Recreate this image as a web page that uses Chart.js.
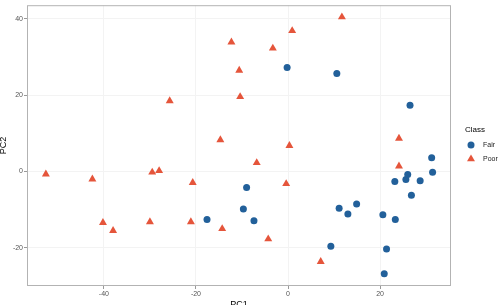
<!DOCTYPE html>
<html>
<head>
<meta charset="utf-8">
<script src="https://cdn.jsdelivr.net/npm/chart.js@4/dist/chart.umd.min.js"></script>
<style>
  html, body { margin: 0; padding: 0; background: #fff; }
  #wrap { width: 498px; height: 305px; }
</style>
</head>
<body>
<div id="wrap"><canvas id="chart" width="498" height="305"></canvas></div>
<script>
// PCA scores
const FAIR_PC1 = [-0.2, 10.6, 26.5, -17.6, -9.0, -9.7, -7.4, 9.3, 11.1, 13.0, 14.9, 20.6, 23.3, 21.4, 20.9, 23.2, 25.6, 26.0, 26.8, 28.7, 31.2, 31.4];
const FAIR_PC2 = [27.3, 25.7, 17.4, -12.6, -4.2, -9.8, -12.9, -19.6, -9.6, -11.1, -8.5, -11.3, -12.6, -20.3, -26.8, -2.6, -2.1, -0.8, -6.2, -2.4, 3.6, -0.2];
const POOR_PC1 = [11.7, 0.9, -12.3, -3.3, -10.6, -10.4, -25.7, -14.7, 0.3, 24.1, -6.8, 24.1, -52.6, -42.5, -29.5, -28.0, -20.7, -0.4, -40.2, -38.0, -30.0, -21.1, -14.3, -4.3, 7.1];
const POOR_PC2 = [40.5, 36.9, 33.9, 32.3, 26.5, 19.6, 18.5, 8.3, 6.8, 8.7, 2.3, 1.4, -0.7, -2.0, -0.2, 0.2, -2.9, -3.2, -13.4, -15.5, -13.2, -13.2, -15.0, -17.7, -23.6];

const X_TICKS = [-40, -20, 0, 20];
const Y_TICKS = [-20, 0, 20, 40];
const CLASSES = ["Fair", "Poor"];

const BLUE = "#22609a";
const RED = "#e5553b";
const FONT = "'Liberation Sans', Arial, sans-serif";

function toPoints(xs, ys) {
    return xs.map((x, i) => ({x: x, y: ys[i]}));
}

// grey panel border + legend on the right
const panelPlugin = {
    id: "panel",
    afterDraw(chart) {
        const ctx = chart.ctx;
        const a = chart.chartArea;
        ctx.save();
        ctx.strokeStyle = "#b3b3b3";
        ctx.lineWidth = 1;
        ctx.strokeRect(a.left + 0.5, a.top + 0.5, a.right - a.left - 1, a.bottom - a.top - 1);

        // legend
        ctx.fillStyle = "#000";
        ctx.font = "8px " + FONT;
        ctx.textBaseline = "middle";
        ctx.textAlign = "left";
        ctx.fillText("Class", 465, 130);
        ctx.font = "7px " + FONT;
        let styles = [
            {pointStyle: "circle", radius: 3.5, color: BLUE},
            {pointStyle: "triangle", radius: 4.6, color: RED},
        ];
        CLASSES.forEach((name, i) => {
            let y = 145 + i * 14;
            let s = styles[i];
            ctx.fillStyle = s.color;
            Chart.helpers.drawPoint(ctx, {pointStyle: s.pointStyle, radius: s.radius, borderWidth: 0, rotation: 0}, 471, y);
            ctx.fillStyle = "#1a1a1a";
            ctx.fillText(name, 483, y);
        });
        ctx.restore();
    }
};

new Chart(document.getElementById("chart"), {
    type: "scatter",
    data: {
        datasets: [
            {
                label: CLASSES[0],
                data: toPoints(FAIR_PC1, FAIR_PC2),
                pointStyle: "circle",
                pointRadius: 3.5,
                pointBorderWidth: 0,
                backgroundColor: BLUE,
                borderColor: BLUE,
            },
            {
                label: CLASSES[1],
                data: toPoints(POOR_PC1, POOR_PC2),
                pointStyle: "triangle",
                pointRadius: 4.6,
                pointBorderWidth: 0,
                backgroundColor: RED,
                borderColor: RED,
            },
        ]
    },
    options: {
        responsive: false,
        animation: false,
        layout: {padding: {left: 0, right: 47, top: 5, bottom: 0}},
        plugins: {
            legend: {display: false},
            tooltip: {enabled: false},
        },
        scales: {
            x: {
                type: "linear",
                min: -56.7,
                max: 35.4,
                afterBuildTicks: (s) => { s.ticks = X_TICKS.map(v => ({value: v})); },
                afterFit: (s) => { s.height = 19; },
                ticks: {color: "#555", font: {family: FONT, size: 7}, padding: 1},
                grid: {color: "#f3f3f3", tickColor: "#999", tickLength: 3},
                border: {display: false},
                title: {display: true, text: "PC1", color: "#000", font: {family: FONT, size: 9}, padding: {top: 0, bottom: -5}},
            },
            y: {
                type: "linear",
                min: -30.0,
                max: 43.6,
                afterBuildTicks: (s) => { s.ticks = Y_TICKS.map(v => ({value: v})); },
                afterFit: (s) => { s.width = 27; },
                ticks: {color: "#555", font: {family: FONT, size: 7}, padding: 1},
                grid: {color: "#f3f3f3", tickColor: "#999", tickLength: 3},
                border: {display: false},
                title: {display: true, text: "PC2", color: "#000", font: {family: FONT, size: 9}, padding: {top: -2, bottom: 0}},
            },
        }
    },
    plugins: [panelPlugin]
});
</script>
</body>
</html>
